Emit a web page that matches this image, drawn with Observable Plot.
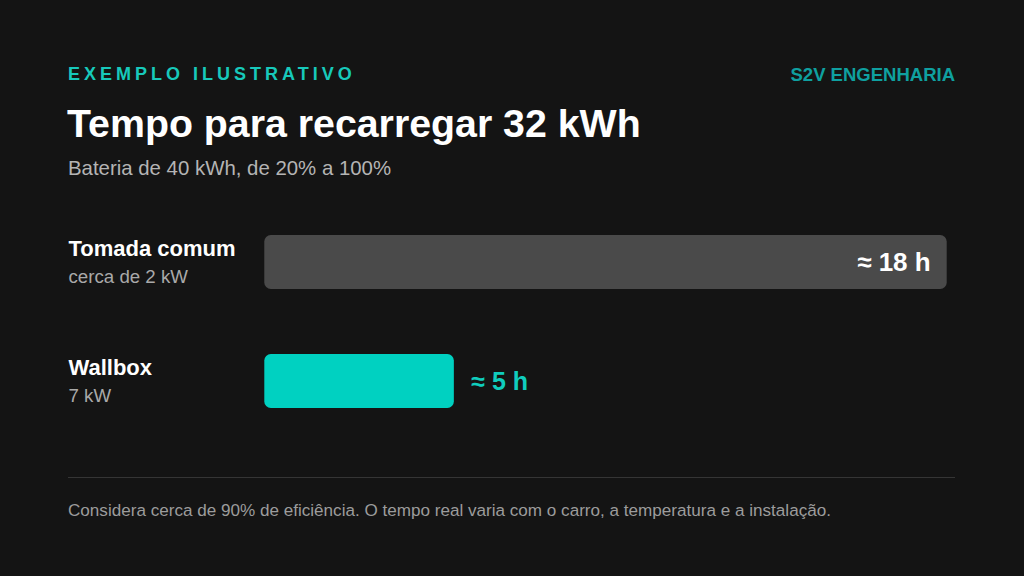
<!DOCTYPE html>
<html>
<head>
<meta charset="utf-8">
<script src="https://cdn.jsdelivr.net/npm/d3@7"></script>
<script src="https://cdn.jsdelivr.net/npm/@observablehq/plot@0.6"></script>
<style>
  html, body { margin: 0; padding: 0; background: #141414; }
  body { width: 1024px; height: 576px; position: relative; overflow: hidden;
         font-family: "Liberation Sans", Arial, Helvetica, sans-serif; }
  .abs { position: absolute; line-height: 1; white-space: nowrap; }
  #eyebrow { left: 68px; top: 65px; font-size: 18px; font-weight: 700; color: #17c9bb; letter-spacing: 4px; }
  #brand { right: 69px; top: 65.5px; font-size: 18.5px; font-weight: 700; color: #0fa0a0; }
  #title { left: 67px; top: 103.5px; font-size: 39.3px; font-weight: 700; color: #ffffff; }
  #subtitle { left: 68px; top: 158px; font-size: 20.4px; color: #b4b4b4; }
  #divider { left: 68px; top: 477px; width: 887px; height: 1px; background: #353535; }
  #footer { left: 68px; top: 501.5px; font-size: 17.1px; color: #9c9c9c; }
  #chart { left: 0; top: 208px; }
</style>
</head>
<body>
<div class="abs" id="eyebrow">EXEMPLO ILUSTRATIVO</div>
<div class="abs" id="brand">S2V ENGENHARIA</div>
<div class="abs" id="title">Tempo para recarregar 32 kWh</div>
<div class="abs" id="subtitle">Bateria de 40 kWh, de 20% a 100%</div>
<div class="abs" id="chart"></div>
<div class="abs" id="divider"></div>
<div class="abs" id="footer">Considera cerca de 90% de eficiência. O tempo real varia com o carro, a temperatura e a instalação.</div>
<script>
// Data
const categories = ["Tomada comum", "Wallbox"];
const powers = ["cerca de 2 kW", "7 kW"];
const hours = [18, 5];
const valueLabels = ["≈ 18 h", "≈ 5 h"];
const barColors = ["#4a4a4a", "#00d1c1"];
const labelColors = ["#ffffff", "#10cdbd"];

const data = categories.map((c, i) => ({
  category: c, power: powers[i], hours: hours[i], label: valueLabels[i], inside: hours[i] > 9
}));

const font = "'Liberation Sans', Arial, Helvetica, sans-serif";

const chart = Plot.plot({
  width: 1024,
  height: 240,
  marginLeft: 264.3,
  marginRight: 77.3,
  marginTop: 26.3,
  marginBottom: 39.5,
  style: { background: "transparent", fontFamily: font, overflow: "visible" },
  x: { domain: [0, 18], axis: null },
  y: { domain: categories, axis: null, paddingInner: 0.545, paddingOuter: 0 },
  color: { domain: categories, range: barColors },
  marks: [
    Plot.barX(data, { x: "hours", y: "category", fill: "category", rx: 6.5 }),
    // category labels
    Plot.text(data, { x: () => 0, y: "category", text: "category", textAnchor: "start",
      dx: -196.3, dy: -13.5, fill: "#ffffff", fontSize: 22, fontWeight: 700 }),
    Plot.text(data, { x: () => 0, y: "category", text: "power", textAnchor: "start",
      dx: -196.3, dy: 15, fill: "#a9a9a9", fontSize: 18.7 }),
    // value labels inside
    Plot.text(data.filter(d => d.inside), { x: "hours", y: "category", text: "label", textAnchor: "end",
      dx: -16.5, fill: labelColors[0], fontSize: 26, fontWeight: 700 }),
    // value labels outside
    Plot.text(data.filter(d => !d.inside), { x: "hours", y: "category", text: "label", textAnchor: "start",
      dx: 17, fill: labelColors[1], fontSize: 25, fontWeight: 700 })
  ]
});
document.getElementById("chart").appendChild(chart);
</script>
</body>
</html>
